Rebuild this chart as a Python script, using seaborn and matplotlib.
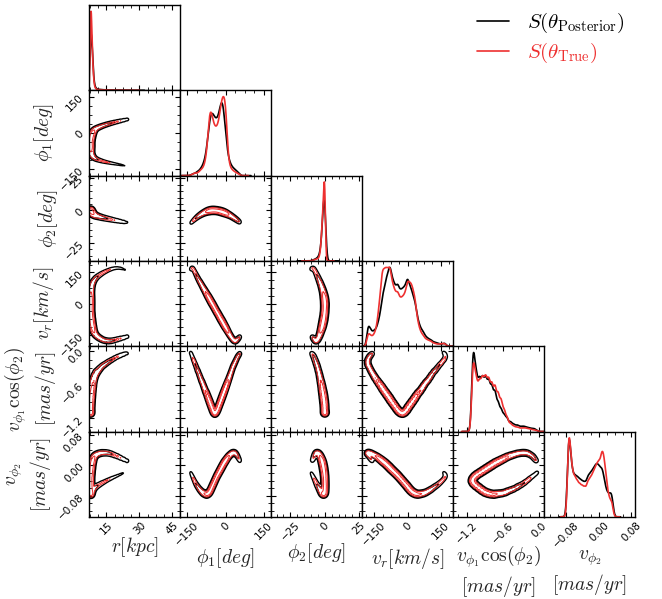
import numpy as np
import matplotlib
matplotlib.use("Agg")
import matplotlib.pyplot as plt
from matplotlib.lines import Line2D
from matplotlib.ticker import AutoMinorLocator, FixedLocator, FuncFormatter
import seaborn as sns

sns.set_theme(style="ticks")
plt.rcParams.update({
    "font.family": ["DejaVu Sans"],
    "mathtext.fontset": "cm",
    "axes.edgecolor": "black",
    "axes.linewidth": 1.0,
    "xtick.color": "black", "ytick.color": "black",
    "xtick.direction": "in", "ytick.direction": "in",
    "xtick.top": True, "ytick.right": True,
    "xtick.major.size": 3.5, "ytick.major.size": 3.5,
    "xtick.minor.size": 2.0, "ytick.minor.size": 2.0,
    "xtick.major.width": 0.8, "ytick.major.width": 0.8,
    "xtick.minor.width": 0.6, "ytick.minor.width": 0.6,
    "xtick.major.pad": 2.5, "ytick.major.pad": 2.5,
    "xtick.labelsize": 7.5, "ytick.labelsize": 7.5,
})

# ---- stream track: knots along phi1 and the other phase-space coordinates ----
phi1_knots = [-136, -134, -132, -130, -128, -126, -124, -122, -120, -118,
              -116, -114, -112, -110, -108, -106, -102, -98, -94, -90,
              -86, -82, -78, -74, -70, -66, -62, -58, -54, -50,
              -46, -42, -38, -34, -30, -26, -22, -18, -14, -10,
              -6, -2, 2, 6, 10, 14, 17, 20, 23, 26,
              29, 32, 35, 38, 41, 44, 47, 50, 53, 56]

r_track = [23.5, 22.3, 21.2, 20.0, 18.8, 17.6, 16.5, 15.4, 14.4, 13.5,
           12.7, 12.0, 11.3, 10.7, 10.2, 9.8, 9.2, 8.8, 8.5, 8.3,
           8.1, 8.0, 7.9, 7.85, 7.8, 7.8, 7.8, 7.8, 7.8, 7.8,
           7.8, 7.8, 7.8, 7.85, 7.9, 7.95, 8.0, 8.1, 8.2, 8.3,
           8.45, 8.6, 8.8, 9.0, 9.3, 9.7, 10.1, 10.7, 11.4, 12.2,
           13.0, 14.0, 15.0, 16.1, 17.3, 18.6, 20.0, 21.4, 22.9, 24.4]

phi2_track = [-10.0, -9.6, -9.2, -8.8, -8.4, -8.0, -7.6, -7.2, -6.8, -6.5,
              -6.1, -5.8, -5.4, -5.1, -4.8, -4.5, -3.9, -3.4, -2.9, -2.4,
              -2.0, -1.6, -1.2, -0.9, -0.6, -0.4, -0.2, -0.05, 0.05, 0.1,
              0.1, 0.05, 0.0, -0.1, -0.25, -0.4, -0.6, -0.8, -1.05, -1.3,
              -1.6, -1.9, -2.2, -2.6, -3.0, -3.4, -3.7, -4.0, -4.4, -4.8,
              -5.2, -5.6, -6.0, -6.4, -6.8, -7.3, -7.7, -8.2, -8.6, -9.1]

vr_track = [162, 167, 170, 171, 170, 167, 163, 158, 153, 148,
            143, 138, 133, 128, 123, 118, 109, 101, 92, 83,
            74, 66, 57, 48, 39, 31, 22, 13, 4, -4,
            -13, -22, -31, -40, -48, -57, -66, -75, -83, -92,
            -101, -110, -118, -127, -136, -145, -151, -157, -163, -168,
            -173, -177, -179, -180, -179, -176, -172, -168, -164, -159]

vphi1_track = [-0.02, -0.04, -0.06, -0.09, -0.11, -0.14, -0.16, -0.18, -0.21, -0.23,
               -0.25, -0.28, -0.30, -0.33, -0.35, -0.37, -0.42, -0.47, -0.52, -0.56,
               -0.61, -0.66, -0.71, -0.75, -0.80, -0.85, -0.90, -0.95, -1.00, -1.05,
               -1.09, -1.11, -1.10, -1.07, -1.03, -0.98, -0.93, -0.88, -0.83, -0.78,
               -0.73, -0.68, -0.63, -0.58, -0.53, -0.48, -0.44, -0.40, -0.36, -0.32,
               -0.28, -0.25, -0.22, -0.19, -0.16, -0.13, -0.10, -0.08, -0.06, -0.04]

vphi2_track = [-0.018, -0.021, -0.024, -0.027, -0.030, -0.033, -0.036, -0.039, -0.042, -0.045,
               -0.047, -0.050, -0.052, -0.054, -0.056, -0.058, -0.062, -0.065, -0.068, -0.071,
               -0.073, -0.074, -0.075, -0.076, -0.075, -0.073, -0.070, -0.065, -0.059, -0.053,
               -0.047, -0.041, -0.035, -0.029, -0.024, -0.019, -0.014, -0.009, -0.004, 0.001,
               0.006, 0.010, 0.014, 0.018, 0.022, 0.025, 0.027, 0.029, 0.031, 0.032,
               0.033, 0.033, 0.033, 0.032, 0.030, 0.027, 0.024, 0.020, 0.016, 0.012]

# linear density of stream stars along phi1 for the two models
dens_posterior = [3, 3, 3.5, 4, 4.5, 5, 5.5, 6, 6.5, 7,
                  8, 9, 10, 11, 12, 13, 16, 19, 23, 28,
                  35, 44, 56, 75, 100, 128, 155, 172, 180, 178,
                  172, 166, 162, 162, 166, 176, 192, 208, 215, 205,
                  180, 145, 110, 82, 60, 46, 38, 33, 29, 26,
                  23, 21, 19, 17, 15, 13, 11, 9, 7, 5]

dens_true = [2, 2, 2.5, 3, 4, 5, 7, 8, 9, 8,
             7, 6.5, 7, 8, 9, 10, 13, 16, 19, 22,
             27, 35, 48, 70, 105, 150, 182, 195, 188, 172,
             158, 150, 146, 148, 155, 168, 188, 210, 228, 238,
             238, 225, 190, 130, 75, 42, 30, 25, 21, 18,
             16, 14, 12, 11, 10, 8, 7, 5, 4, 3]

# intrinsic stream width in each coordinate (r, phi1, phi2, vr, vphi1 cos phi2, vphi2)
track_width = [0.58, 4.4, 1.0, 6.2, 0.023, 0.0036]
true_width_2d = 0.75
true_width_1d = [0.6, 0.75, 0.6, 1.0, 1.0, 0.9]

axis_labels = [r"$r[kpc]$", r"$\phi_1[deg]$", r"$\phi_2[deg]$", r"$v_r[km/s]$",
               r"$v_{\phi_1}\cos(\phi_2)$" "\n" r"$[mas/yr]$",
               r"$v_{\phi_2}$" "\n" r"$[mas/yr]$"]
axis_limits = [(7, 48.6), (-177, 177), (-39, 27), (-205, 205), (-1.435, 0.09), (-0.135, 0.089)]
axis_ticks = [[15, 30, 45], [-150, 0, 150], [-25, 0, 25], [-150, 0, 150],
              [-1.2, -0.6, 0.0], [-0.08, 0.0, 0.08]]
tick_formats = ["%d", "%d", "%d", "%d", "%.1f", "%.2f"]

legend_labels = [r"$S(\theta_{\rm Posterior})$", r"$S(\theta_{\rm True})$"]
post_color = "black"
true_color = "#ee3030"

# ---- assemble samples ----
phi1_arr = np.asarray(phi1_knots, float)
coords = [np.asarray(a, float) for a in
          (r_track, phi1_knots, phi2_track, vr_track, vphi1_track, vphi2_track)]
knot_span = np.gradient(phi1_arr)          # phi1 interval carried by each knot
w_post = np.asarray(dens_posterior, float) * knot_span
w_post /= w_post.sum()
w_true = np.asarray(dens_true, float) * knot_span
w_true /= w_true.sum()


def density_2d(xk, yk, w, sx, sy, xg, yg):
    gx = np.exp(-0.5 * ((xg[None, :] - xk[:, None]) / sx) ** 2)
    gy = np.exp(-0.5 * ((yg[None, :] - yk[:, None]) / sy) ** 2)
    return np.einsum("i,ix,iy->yx", w, gx, gy)


def mass_levels(z, fracs):
    flat = np.sort(z.ravel())[::-1]
    cum = np.cumsum(flat)
    cum /= cum[-1]
    lv = [flat[min(np.searchsorted(cum, f), flat.size - 1)] for f in fracs]
    return np.unique(lv)


def fmt_factory(fmt):
    return FuncFormatter(lambda v, pos: (fmt % v).replace("-", "\u2212"))


W, H = 662, 599
fig = plt.figure(figsize=(W / 100, H / 100), dpi=100)
x0, dx = 89.0, 91.0
y0, dy = 5.0, 85.3
n = 6

for i in range(n):
    for j in range(i + 1):
        ax = fig.add_axes([(x0 + j * dx) / W, 1 - (y0 + (i + 1) * dy) / H, dx / W, dy / H])
        for s in ax.spines.values():
            s.set_linewidth(1.0)
            s.set_color("black")
        if i == j:
            vals = coords[i]
            for w, c, sc in ((w_post, post_color, 1.0), (w_true, true_color, true_width_1d[i])):
                std = np.sqrt(np.cov(vals, aweights=w))
                sns.kdeplot(x=vals, weights=w, bw_method=track_width[i] * sc / std,
                            ax=ax, color=c, lw=1.2, gridsize=800, cut=5)
            ymax = max(l.get_ydata().max() for l in ax.get_lines())
            ax.set_ylim(0, ymax * 1.08)
            ax.set_yticks([])
            ax.tick_params(axis="y", which="both", left=False, right=False)
            ax.set_ylabel("")
        else:
            xk, yk = coords[j], coords[i]
            xg = np.linspace(*axis_limits[j], 200)
            yg = np.linspace(*axis_limits[i], 200)
            zp = density_2d(xk, yk, w_post, track_width[j], track_width[i], xg, yg)
            sc = true_width_2d
            zt = density_2d(xk, yk, w_true, track_width[j] * sc, track_width[i] * sc, xg, yg)
            ax.contour(xg, yg, zp, levels=mass_levels(zp, [0.995, 0.965]),
                       colors=post_color, linewidths=1.0)
            ax.contour(xg, yg, zt, levels=mass_levels(zt, [0.985, 0.8]),
                       colors=true_color, linewidths=0.75)
            ax.set_ylim(axis_limits[i])
            ax.yaxis.set_major_locator(FixedLocator(axis_ticks[i]))
            ax.yaxis.set_minor_locator(AutoMinorLocator())
            ax.yaxis.set_major_formatter(fmt_factory(tick_formats[i]))
            ax.tick_params(axis="y", labelrotation=45)
        ax.set_xlim(axis_limits[j])
        ax.xaxis.set_major_locator(FixedLocator(axis_ticks[j]))
        ax.xaxis.set_minor_locator(AutoMinorLocator())
        ax.xaxis.set_major_formatter(fmt_factory(tick_formats[j]))
        ax.tick_params(axis="x", labelrotation=45)
        ax.set_xlabel("")
        if i == n - 1:
            ax.set_xlabel(axis_labels[j], fontsize=14, labelpad=-1)
        else:
            ax.tick_params(axis="x", labelbottom=False)
        if j == 0 and i > 0:
            ax.set_ylabel(axis_labels[i], fontsize=14, labelpad=2)
        else:
            ax.tick_params(axis="y", labelleft=False)

handles = [Line2D([], [], color=post_color, lw=1.2), Line2D([], [], color=true_color, lw=1.2)]
fig.legend(handles, legend_labels, loc="upper right", bbox_to_anchor=(644 / W, 1 + 8 / H),
           frameon=False, fontsize=15, labelcolor="linecolor", handlelength=1.5,
           handletextpad=0.9, labelspacing=0.3)

fig.savefig("out.png", dpi=100)
